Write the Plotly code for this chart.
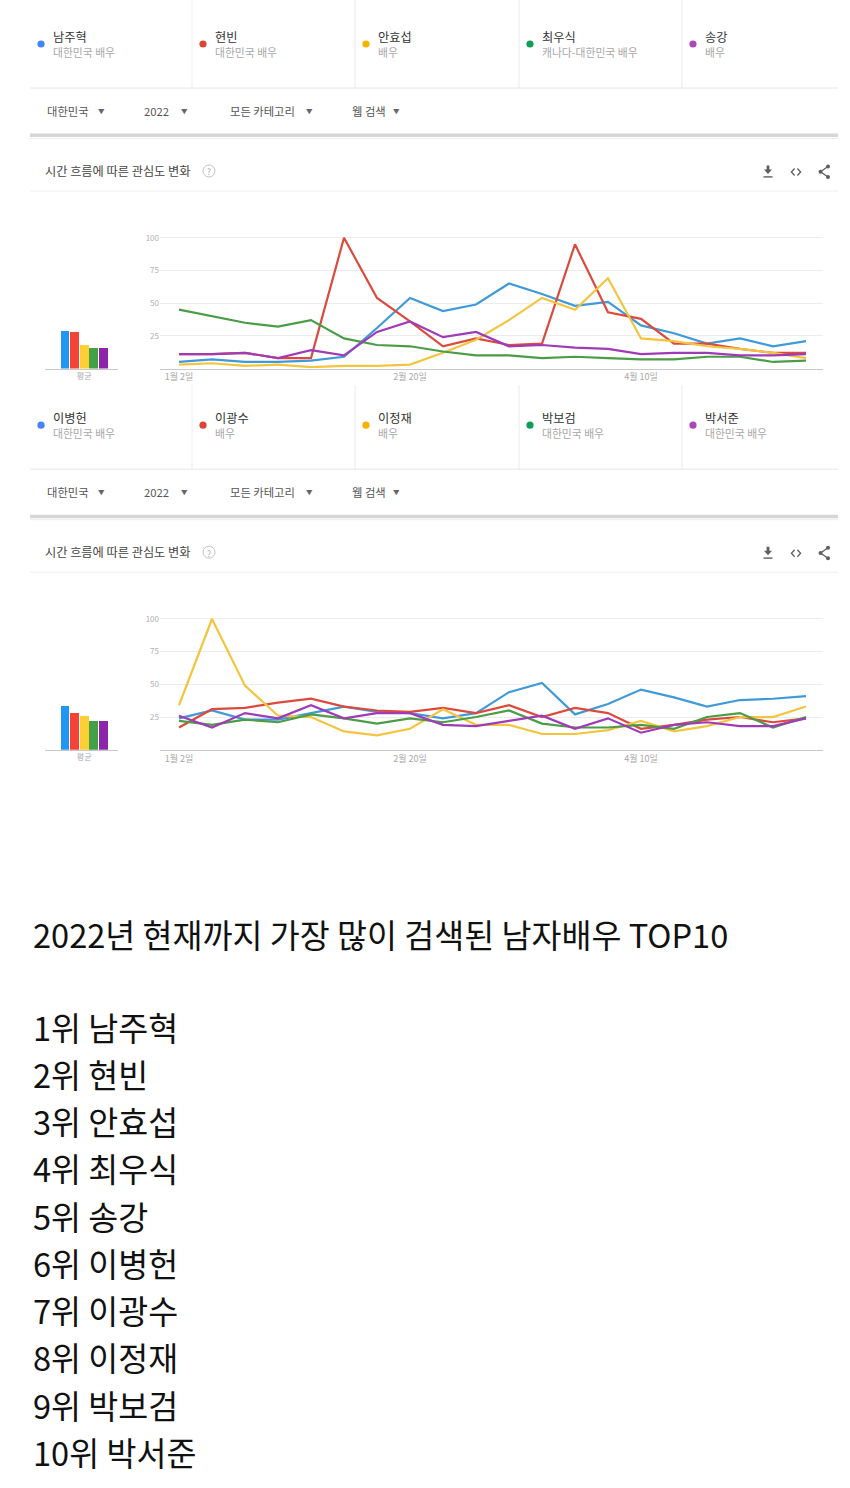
import plotly.graph_objects as go

W, H = 850, 1488
FONT = "Noto Sans CJK KR"

# ---------------- data ----------------
weeks = ["2022-01-02", "2022-01-09", "2022-01-16", "2022-01-23", "2022-01-30",
         "2022-02-06", "2022-02-13", "2022-02-20", "2022-02-27", "2022-03-06",
         "2022-03-13", "2022-03-20", "2022-03-27", "2022-04-03", "2022-04-10",
         "2022-04-17", "2022-04-24", "2022-05-01", "2022-05-08", "2022-05-15"]
tick_dates = ["2022-01-02", "2022-02-20", "2022-04-10"]
tick_labels = ["1월 2일", "2월 20일", "4월 10일"]
y_ticks = [25, 50, 75, 100]

names1 = ["남주혁", "현빈", "안효섭", "최우식", "송강"]
subs1 = ["대한민국 배우", "대한민국 배우", "배우", "캐나다-대한민국 배우", "배우"]
nam_juhyuk = [5, 7, 5, 5, 6, 9, 31, 54, 44, 49, 65, 57, 48, 51, 33, 27, 19, 23, 17, 21]
hyunbin = [11, 11, 12, 8, 8, 100, 54, 36, 17, 23, 18, 19, 95, 43, 38, 19, 19, 15, 12, 12]
ahn_hyoseop = [3, 4, 2, 3, 1, 2, 2, 3, 12, 22, 37, 54, 45, 69, 23, 21, 17, 15, 12, 8]
choi_wooshik = [45, 40, 35, 32, 37, 23, 18, 17, 13, 10, 10, 8, 9, 8, 7, 7, 9, 9, 5, 6]
song_kang = [11, 11, 12, 8, 14, 10, 28, 36, 24, 28, 17, 18, 16, 15, 11, 12, 12, 10, 10, 11]
avg1 = [29, 28, 18, 16, 16]

names2 = ["이병헌", "이광수", "이정재", "박보검", "박서준"]
subs2 = ["대한민국 배우", "배우", "배우", "대한민국 배우", "대한민국 배우"]
lee_byunghun = [24, 30, 23, 23, 28, 33, 29, 28, 24, 28, 44, 51, 27, 35, 46, 40, 33, 38, 39, 41]
lee_kwangsoo = [17, 31, 32, 36, 39, 33, 30, 29, 32, 28, 34, 25, 32, 28, 16, 19, 23, 25, 21, 24]
lee_jungjae = [34, 100, 49, 26, 25, 14, 11, 16, 31, 19, 19, 12, 12, 15, 22, 14, 18, 25, 25, 33]
park_bogum = [22, 19, 23, 21, 27, 24, 20, 24, 21, 25, 30, 20, 17, 17, 19, 16, 25, 28, 17, 25]
park_seojun = [26, 17, 28, 24, 34, 24, 28, 28, 19, 18, 22, 26, 16, 24, 13, 19, 21, 18, 18, 24]
avg2 = [33, 28, 26, 22, 22]

filters = ["대한민국", "2022", "모든 카테고리", "웹 검색"]
chart_title = "시간 흐름에 따른 관심도 변화"
avg_label = "평균"
headline = "2022년 현재까지 가장 많이 검색된 남자배우 TOP10"
ranking = ["1위 남주혁", "2위 현빈", "3위 안효섭", "4위 최우식", "5위 송강",
           "6위 이병헌", "7위 이광수", "8위 이정재", "9위 박보검", "10위 박서준"]

line_colors = ["#3f9ad8", "#dc4a3d", "#f3c53f", "#4b9c47", "#a03bb8"]
bar_colors = ["#2196f3", "#f44336", "#fbcf35", "#43a047", "#8e24aa"]
dot_colors = ["#4285f4", "#db4437", "#f4b400", "#0f9d58", "#ab47bc"]


# ---------------- helpers ----------------
def X(p):
    return p / W


def Y(p):
    return 1 - p / H


shapes = []
annotations = []


def text(x, y, s, size, color, anchor="left"):
    if anchor == "left":
        x -= 2
    annotations.append(dict(
        x=X(x), y=Y(y), xref="paper", yref="paper", text=s, showarrow=False,
        xanchor=anchor, yanchor="middle",
        font=dict(family=FONT, size=size, color=color)))


def hline(x0, x1, y, color, width=1):
    shapes.append(dict(type="line", xref="paper", yref="paper",
                       x0=X(x0), x1=X(x1), y0=Y(y), y1=Y(y),
                       line=dict(color=color, width=width)))


def vline(x, y0, y1, color, width=1):
    shapes.append(dict(type="line", xref="paper", yref="paper",
                       x0=X(x), x1=X(x), y0=Y(y0), y1=Y(y1),
                       line=dict(color=color, width=width)))


def path(points, color, width=1.4, fill=None, close=False):
    d = "M " + " L ".join(f"{X(px):.5f},{Y(py):.5f}" for px, py in points)
    if close:
        d += " Z"
    shapes.append(dict(type="path", xref="paper", yref="paper", path=d,
                       line=dict(color=color, width=width if fill is None else 0),
                       fillcolor=fill if fill else "rgba(0,0,0,0)"))


def circle(cx, cy, r, line_color=None, fill=None, width=1):
    shapes.append(dict(type="circle", xref="paper", yref="paper",
                       x0=X(cx - r), x1=X(cx + r), y0=Y(cy + r), y1=Y(cy - r),
                       line=dict(color=line_color or "rgba(0,0,0,0)", width=width if line_color else 0),
                       fillcolor=fill if fill else "rgba(0,0,0,0)"))


fig = go.Figure()
layout_axes = {}

card_x = [30, 192, 355, 519, 682]
filter_x = [47, 144, 230, 352]
arrow_x = [101, 184, 309, 396]


def section(off, div_top, names, subs, series, avgs, k):
    # legend cards
    for i in range(5):
        cx = card_x[i]
        circle(cx + 11, 44 + off, 3.6, fill=dot_colors[i])
        text(cx + 23, 37 + off, names[i], 12.2, "#333333")
        text(cx + 23, 51.5 + off, subs[i], 10.8, "#a8a8a8")
    for dx in card_x[1:]:
        vline(dx, div_top, 88 + off, "#ebebeb")
    hline(30, 838, 88 + off, "#e6e6e6")
    # filter row
    for fx, ax, f in zip(filter_x, arrow_x, filters):
        text(fx, 111 + off, f, 11.3, "#555555")
        text(ax, 111 + off, "▼", 6.5, "#666666", anchor="center")
    shapes.append(dict(type="rect", xref="paper", yref="paper",
                       x0=X(30), x1=X(838), y0=Y(137 + off), y1=Y(133.5 + off),
                       line=dict(width=0), fillcolor="#d6d6d6"))
    hline(30, 838, 138.5 + off, "#ededed")
    # card title
    text(45, 171 + off, chart_title, 12.2, "#444444")
    circle(209, 171 + off, 6, line_color="#c4c4c4", width=1)
    text(209, 171.5 + off, "?", 8.5, "#b0b0b0", anchor="center")
    hline(30, 838, 191 + off, "#eeeeee")
    # icons: download, embed, share
    ic = "#5f5f5f"
    path([(766.6, 165.5 + off), (769.4, 165.5 + off), (769.4, 169.5 + off), (772, 169.5 + off),
          (768, 174 + off), (764, 169.5 + off), (766.6, 169.5 + off)], ic, fill=ic, close=True)
    shapes.append(dict(type="rect", xref="paper", yref="paper",
                       x0=X(763.5), x1=X(772.5), y0=Y(177.6 + off), y1=Y(176.2 + off),
                       line=dict(width=0), fillcolor=ic))
    path([(794.6, 168.5 + off), (791.4, 172 + off), (794.6, 175.5 + off)], ic, width=1.3)
    path([(797.4, 168.5 + off), (800.6, 172 + off), (797.4, 175.5 + off)], ic, width=1.3)
    path([(828, 166.5 + off), (820.5, 171.8 + off), (828, 177 + off)], ic, width=1.3)
    circle(828, 166.5 + off, 2, fill=ic)
    circle(820.5, 171.8 + off, 2, fill=ic)
    circle(828, 177 + off, 2, fill=ic)

    # chart axes
    y0px = 368.5 + off
    ymax = 106
    ytop = y0px - ymax * 1.307
    xa = "xaxis" if k == 1 else f"xaxis{k}"
    ya = "yaxis" if k == 1 else f"yaxis{k}"
    xb = f"xaxis{k + 1}"
    yb = f"yaxis{k + 1}"
    xref = "x" if k == 1 else f"x{k}"
    yref = "y" if k == 1 else f"y{k}"
    xbref = f"x{k + 1}"
    ybref = f"y{k + 1}"

    for s, c, n in zip(series, line_colors, names):
        fig.add_trace(go.Scatter(x=weeks, y=s, mode="lines", name=n,
                                 line=dict(color=c, width=2.2),
                                 xaxis=xref, yaxis=yref, showlegend=False))
    fig.add_trace(go.Bar(x=names, y=avgs, marker=dict(color=bar_colors, line=dict(width=0)),
                         width=0.92, xaxis=xbref, yaxis=ybref, showlegend=False))

    layout_axes[xa] = dict(
        domain=[X(160), X(823)], type="date",
        range=["2021-12-28 23:17", "2022-05-18 14:33"],
        anchor=yref, showgrid=False, zeroline=False,
        showline=True, linecolor="#c8c8c8", linewidth=1,
        tickmode="array", tickvals=tick_dates, ticktext=tick_labels,
        ticks="", tickfont=dict(family=FONT, size=9, color="#a8a8a8"))
    layout_axes[ya] = dict(
        domain=[Y(y0px), Y(ytop)], range=[0, ymax], anchor=xref,
        showgrid=True, gridcolor="#ececec", gridwidth=1, zeroline=False,
        showline=False, tickmode="array", tickvals=y_ticks, ticks="",
        tickfont=dict(family=FONT, size=8, color="#b0b0b0"))
    layout_axes[xb] = dict(
        domain=[X(45), X(118)], type="category", range=[-2.08, 5.52],
        anchor=ybref, showgrid=False, zeroline=False,
        showline=True, linecolor="#c8c8c8", linewidth=1,
        tickmode="array", tickvals=[names[2]], ticktext=[avg_label], ticks="",
        tickfont=dict(family=FONT, size=8, color="#a8a8a8"))
    layout_axes[yb] = dict(
        domain=[Y(y0px), Y(ytop)], range=[0, ymax], anchor=xbref,
        showgrid=False, zeroline=False, showline=False, showticklabels=False)


section(0, 0, names1, subs1,
        [nam_juhyuk, hyunbin, ahn_hyoseop, choi_wooshik, song_kang], avg1, 1)
section(381.2, 385, names2, subs2,
        [lee_byunghun, lee_kwangsoo, lee_jungjae, park_bogum, park_seojun], avg2, 3)

# bottom text block
text(33, 933, headline, 32.6, "#111111")
for i, r in enumerate(ranking):
    text(33, 1026 + 47.25 * i, r, 32.6, "#111111")

fig.update_layout(
    width=W, height=H, autosize=False,
    margin=dict(l=0, r=0, t=0, b=0, pad=0),
    paper_bgcolor="white", plot_bgcolor="white",
    font=dict(family=FONT),
    shapes=shapes, annotations=annotations,
    bargap=0, **layout_axes)

fig.write_html("out.html", config={"displayModeBar": False},
               post_script="document.body.style.margin='0';")
